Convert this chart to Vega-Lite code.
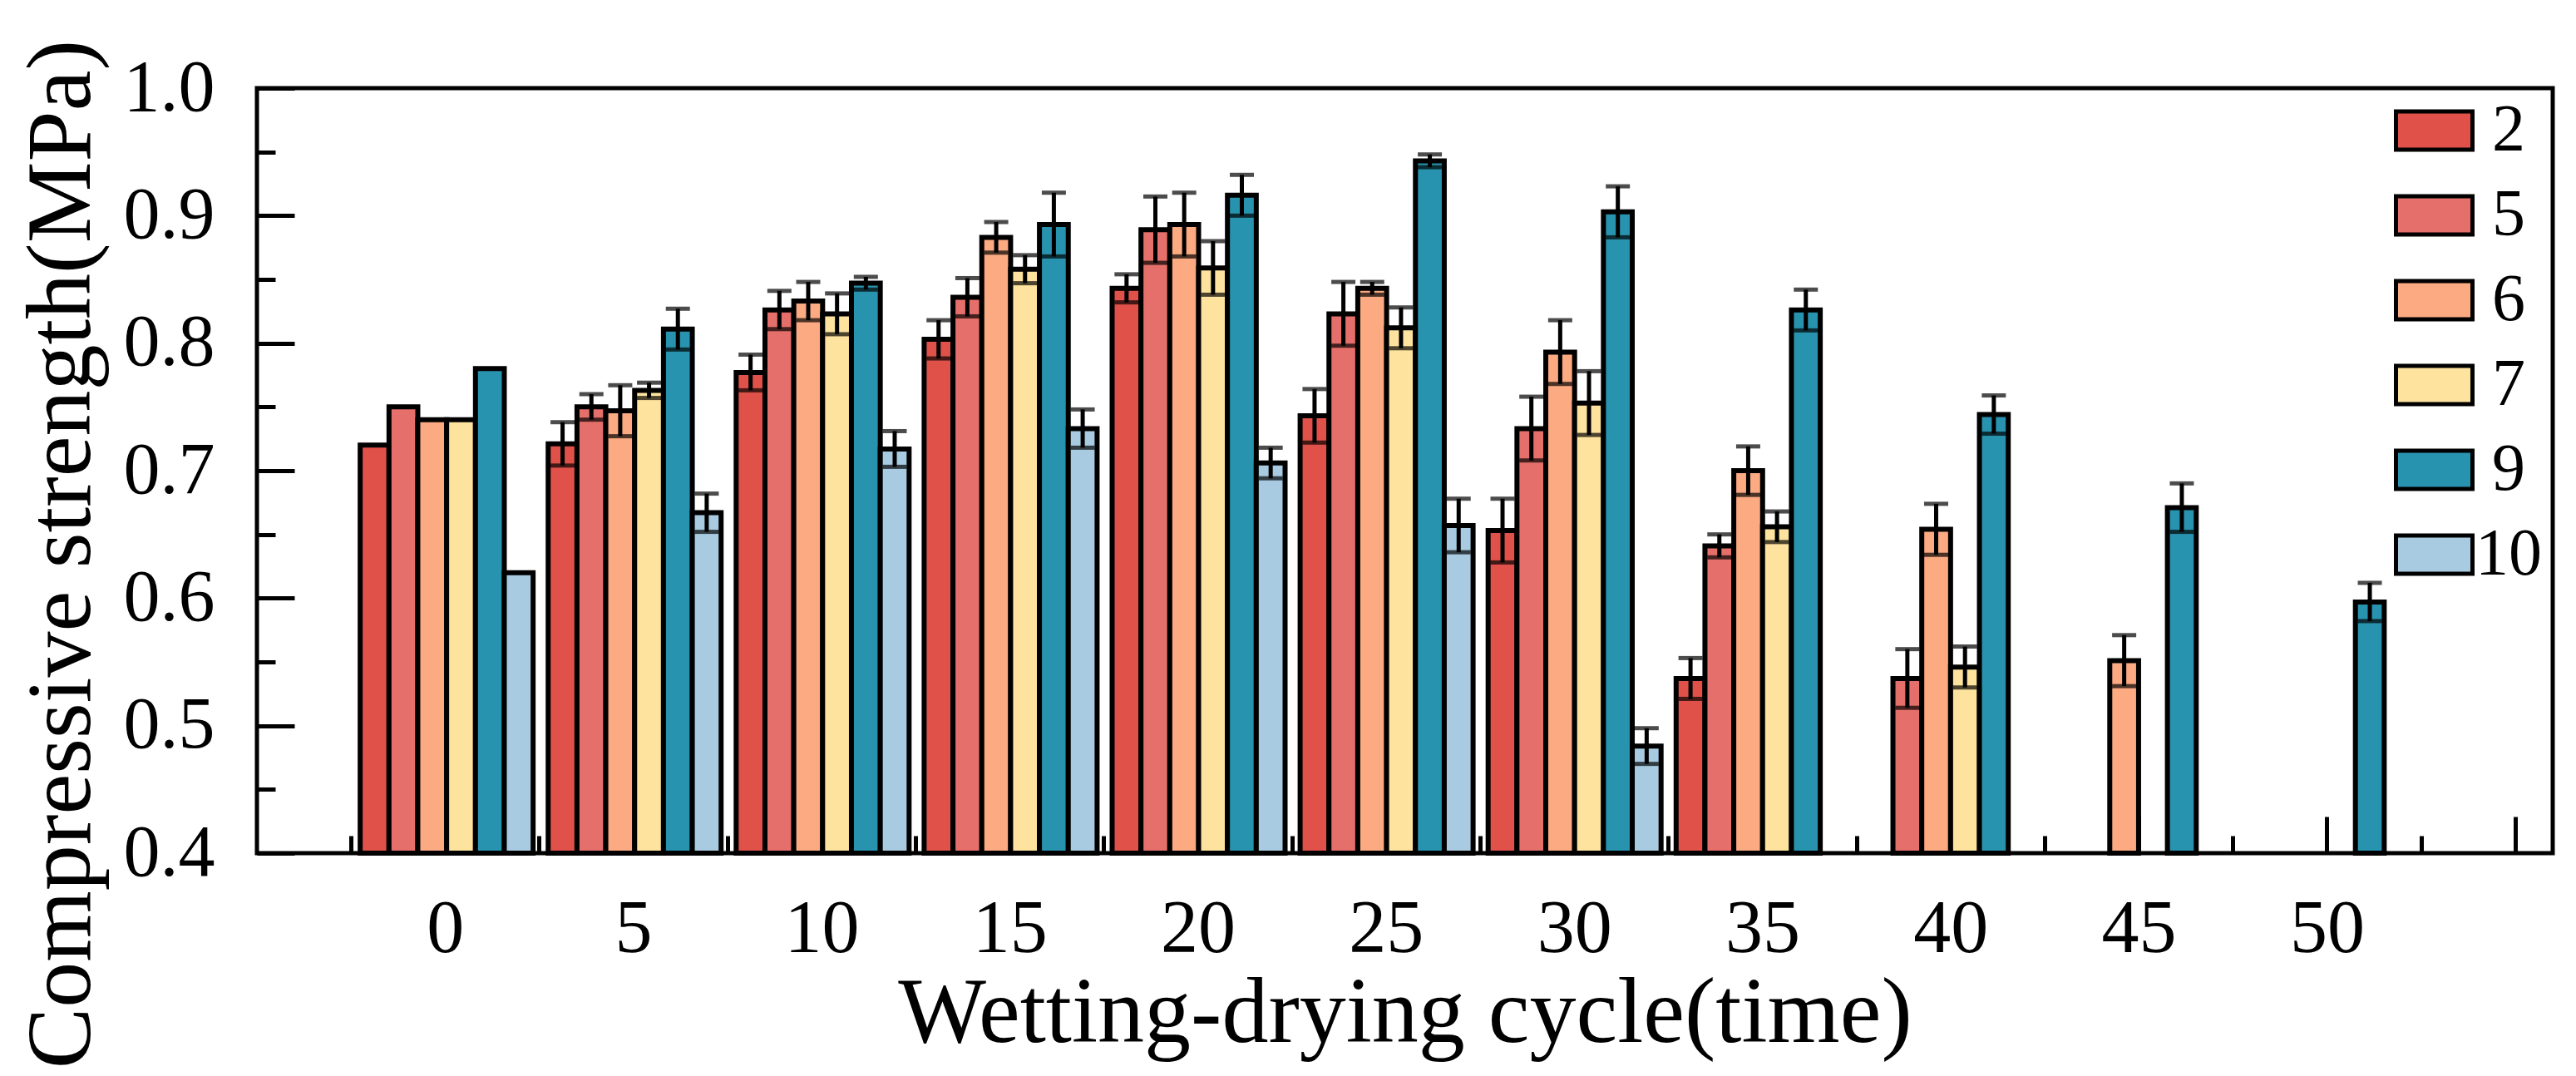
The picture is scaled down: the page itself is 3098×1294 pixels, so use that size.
{
  "$schema": "https://vega.github.io/schema/vega-lite/v6.json",
  "width": 2761,
  "height": 920,
  "autosize": {"type": "none"},
  "padding": {"left": 309, "top": 106, "right": 28, "bottom": 268},
  "background": "white",
  "data": {
    "values": [
      {"cycle": 0, "series": "2", "value": 0.72, "err": null},
      {"cycle": 0, "series": "5", "value": 0.75, "err": null},
      {"cycle": 0, "series": "6", "value": 0.74, "err": null},
      {"cycle": 0, "series": "7", "value": 0.74, "err": null},
      {"cycle": 0, "series": "9", "value": 0.78, "err": null},
      {"cycle": 0, "series": "10", "value": 0.62, "err": null},
      {"cycle": 5, "series": "2", "value": 0.721, "err": 0.017},
      {"cycle": 5, "series": "5", "value": 0.75, "err": 0.01},
      {"cycle": 5, "series": "6", "value": 0.747, "err": 0.02},
      {"cycle": 5, "series": "7", "value": 0.763, "err": 0.006},
      {"cycle": 5, "series": "9", "value": 0.811, "err": 0.016},
      {"cycle": 5, "series": "10", "value": 0.667, "err": 0.015},
      {"cycle": 10, "series": "2", "value": 0.777, "err": 0.014},
      {"cycle": 10, "series": "5", "value": 0.826, "err": 0.015},
      {"cycle": 10, "series": "6", "value": 0.833, "err": 0.015},
      {"cycle": 10, "series": "7", "value": 0.823, "err": 0.016},
      {"cycle": 10, "series": "9", "value": 0.847, "err": 0.005},
      {"cycle": 10, "series": "10", "value": 0.717, "err": 0.014},
      {"cycle": 15, "series": "2", "value": 0.803, "err": 0.015},
      {"cycle": 15, "series": "5", "value": 0.836, "err": 0.015},
      {"cycle": 15, "series": "6", "value": 0.883, "err": 0.012},
      {"cycle": 15, "series": "7", "value": 0.858, "err": 0.011},
      {"cycle": 15, "series": "9", "value": 0.893, "err": 0.025},
      {"cycle": 15, "series": "10", "value": 0.733, "err": 0.015},
      {"cycle": 20, "series": "2", "value": 0.843, "err": 0.011},
      {"cycle": 20, "series": "5", "value": 0.889, "err": 0.026},
      {"cycle": 20, "series": "6", "value": 0.893, "err": 0.025},
      {"cycle": 20, "series": "7", "value": 0.859, "err": 0.021},
      {"cycle": 20, "series": "9", "value": 0.916, "err": 0.016},
      {"cycle": 20, "series": "10", "value": 0.706, "err": 0.012},
      {"cycle": 25, "series": "2", "value": 0.743, "err": 0.021},
      {"cycle": 25, "series": "5", "value": 0.823, "err": 0.025},
      {"cycle": 25, "series": "6", "value": 0.843, "err": 0.005},
      {"cycle": 25, "series": "7", "value": 0.812, "err": 0.016},
      {"cycle": 25, "series": "9", "value": 0.943, "err": 0.005},
      {"cycle": 25, "series": "10", "value": 0.657, "err": 0.021},
      {"cycle": 30, "series": "2", "value": 0.653, "err": 0.025},
      {"cycle": 30, "series": "5", "value": 0.733, "err": 0.025},
      {"cycle": 30, "series": "6", "value": 0.793, "err": 0.025},
      {"cycle": 30, "series": "7", "value": 0.753, "err": 0.025},
      {"cycle": 30, "series": "9", "value": 0.903, "err": 0.02},
      {"cycle": 30, "series": "10", "value": 0.484, "err": 0.014},
      {"cycle": 35, "series": "2", "value": 0.537, "err": 0.016},
      {"cycle": 35, "series": "5", "value": 0.641, "err": 0.009},
      {"cycle": 35, "series": "6", "value": 0.7, "err": 0.019},
      {"cycle": 35, "series": "7", "value": 0.656, "err": 0.012},
      {"cycle": 35, "series": "9", "value": 0.826, "err": 0.016},
      {"cycle": 40, "series": "5", "value": 0.537, "err": 0.023},
      {"cycle": 40, "series": "6", "value": 0.654, "err": 0.02},
      {"cycle": 40, "series": "7", "value": 0.546, "err": 0.016},
      {"cycle": 40, "series": "9", "value": 0.744, "err": 0.015},
      {"cycle": 45, "series": "6", "value": 0.551, "err": 0.02},
      {"cycle": 45, "series": "9", "value": 0.671, "err": 0.019},
      {"cycle": 50, "series": "9", "value": 0.597, "err": 0.015}
    ]
  },
  "layer": [
    {
      "encoding": {
        "x": {
          "field": "cycle",
          "type": "ordinal",
          "scale": {
            "domain": [0, 5, 10, 15, 20, 25, 30, 35, 40, 45, 50],
            "paddingInner": 0.08,
            "paddingOuter": 0.646,
            "align": 0.425
          },
          "axis": null
        },
        "xOffset": {
          "field": "series",
          "type": "nominal",
          "scale": {"domain": ["2", "5", "6", "7", "9", "10"], "paddingInner": 0, "paddingOuter": 0}
        },
        "y": {
          "field": "value",
          "type": "quantitative",
          "scale": {"domain": [0.4, 1.0], "nice": false, "zero": false},
          "axis": {
            "values": [0.4, 0.45, 0.5, 0.55, 0.6, 0.65, 0.7, 0.75, 0.8, 0.85, 0.9, 0.95, 1.0],
            "tickSize": {
              "condition": {"test": "abs(datum.value*10 - round(datum.value*10)) < 0.01", "value": -45},
              "value": -22
            },
            "labelExpr": "abs(datum.value*10 - round(datum.value*10)) < 0.01 ? format(datum.value, '.1f') : ''",
            "labelPadding": 96,
            "labelFontSize": 88,
            "title": "Compressive strength(MPa)",
            "titleFontSize": 110,
            "titleX": -202,
            "titleY": 560,
            "titleBaseline": "alphabetic",
            "titleAngle": -90,
            "titleAlign": "center"
          }
        }
      },
      "layer": [
        {
          "mark": {"type": "bar", "stroke": "black", "strokeWidth": 6},
          "encoding": {
            "y2": {"datum": 0.4},
            "color": {
              "field": "series",
              "type": "nominal",
              "scale": {
                "domain": ["2", "5", "6", "7", "9", "10"],
                "range": ["#df5149", "#e56f6a", "#fcaa82", "#fde39e", "#2893ae", "#a8cbe1"]
              },
              "legend": {
                "orient": "none",
                "legendX": 2570,
                "legendY": 0,
                "title": null
              }
            }
          }
        },
        {
          "transform": [{"filter": "datum.err != null"}],
          "mark": {"type": "errorbar", "ticks": true, "size": 29, "thickness": 5, "color": "black"},
          "encoding": {
            "yError": {"field": "err"}
          }
        }
      ]
    },
    {
      "data": {"values": [{}]},
      "mark": {"type": "rule", "opacity": 0},
      "encoding": {
        "x": {
          "datum": 0,
          "type": "quantitative",
          "scale": {"domain": [-5, 56], "nice": false, "zero": false},
          "axis": {
            "orient": "bottom",
            "values": [-2.5, 0, 2.5, 5, 7.5, 10, 12.5, 15, 17.5, 20, 22.5, 25, 27.5, 30, 32.5, 35, 37.5, 40, 42.5, 45, 47.5, 50, 52.5, 55],
            "tickSize": {
              "condition": {"test": "datum.value % 5 == 0", "value": -44},
              "value": -21
            },
            "labelExpr": "datum.value >= 0 && datum.value <= 50 && datum.value % 5 == 0 ? datum.label : ''",
            "labelPadding": 91,
            "labelFontSize": 90,
            "title": "Wetting-drying cycle(time)",
            "titleY": 226,
            "titleBaseline": "alphabetic"
          }
        }
      }
    }
  ],
  "resolve": {"scale": {"x": "independent"}, "axis": {"x": "independent"}},
  "config": {
    "view": {"stroke": "black", "strokeWidth": 5},
    "font": "Liberation Serif, Times New Roman, DejaVu Serif, serif",
    "axis": {
      "domain": false,
      "grid": false,
      "tickColor": "black",
      "tickWidth": 5,
      "labelColor": "black",
      "labelFont": "Liberation Serif, Times New Roman, DejaVu Serif, serif",
      "labelOverlap": false,
      "labelFlush": false,
      "labelBound": false,
      "titleFont": "Liberation Serif, Times New Roman, DejaVu Serif, serif",
      "titleFontSize": 112,
      "titleFontWeight": "normal",
      "titleColor": "black"
    },
    "legend": {
      "symbolType": "M-1,-0.5H1V0.5H-1Z",
      "symbolSize": 8464,
      "symbolStrokeColor": "black",
      "symbolStrokeWidth": 5,
      "symbolOpacity": 1,
      "labelFont": "Liberation Serif, Times New Roman, DejaVu Serif, serif",
      "labelFontSize": 80,
      "labelColor": "black",
      "labelAlign": "center",
      "labelOffset": 41,
      "clipHeight": 102,
      "rowPadding": 0,
      "padding": 0
    }
  }
}
